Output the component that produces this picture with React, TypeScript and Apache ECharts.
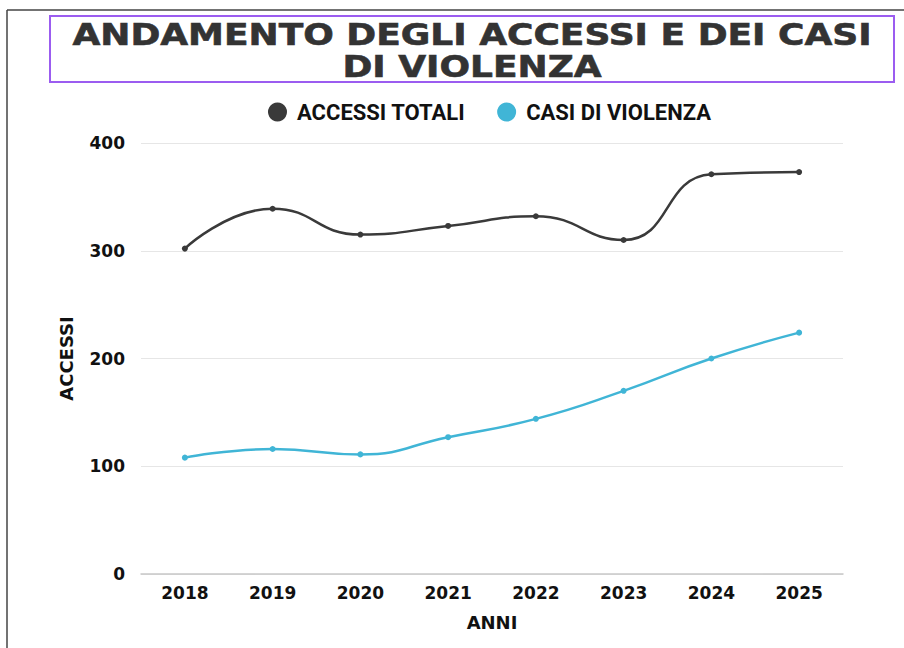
import React, { useEffect, useRef } from "react";
import * as echarts from "echarts";

const years = ["2018", "2019", "2020", "2021", "2022", "2023", "2024", "2025"];
const accessiTotali = [302, 339, 315, 323, 332, 310, 371, 373];
const casiViolenza = [108, 116, 111, 127, 144, 170, 200, 224];
const yTicks = [0, 100, 200, 300, 400];
const titleLines = ["ANDAMENTO DEGLI ACCESSI E DEI CASI", "DI VIOLENZA"];

export default function App() {
  const ref = useRef<HTMLDivElement>(null);
  useEffect(() => {
    if (!ref.current) return;
    const chart = echarts.init(ref.current, null, { renderer: "svg" });
    const axisFont = { fontFamily: "DejaVu Sans", fontWeight: "bold", fontSize: 17, color: "#111" };
    const titleStyle = {
      fontFamily: "DejaVu Sans",
      fontWeight: 900,
      fontSize: 30,
      fill: "#333",
      stroke: "#333",
      lineWidth: 0.6,
      align: "center",
      verticalAlign: "middle",
    };
    chart.setOption({
      animation: false,
      backgroundColor: "#fff",
      graphic: [
        { type: "line", shape: { x1: 7, y1: 10, x2: 904, y2: 10 }, style: { stroke: "#444", lineWidth: 1.5 } },
        { type: "line", shape: { x1: 7, y1: 10, x2: 7, y2: 648 }, style: { stroke: "#444", lineWidth: 1.5 } },
        { type: "rect", shape: { x: 50, y: 16, width: 844, height: 66 }, style: { fill: "none", stroke: "#9b5cf0", lineWidth: 2 } },
        { type: "text", x: 472, y: 35, scaleX: 1.2, style: { text: titleLines[0], ...titleStyle } },
        { type: "text", x: 472, y: 67, scaleX: 1.2, style: { text: titleLines[1], ...titleStyle } },
      ],
      legend: {
        top: 96,
        left: 263,
        icon: "circle",
        itemWidth: 19,
        itemHeight: 19,
        itemGap: 32,
        textStyle: { fontFamily: "Roboto", fontWeight: "bold", fontSize: 22, color: "#111", padding: [0, 0, 0, 5] },
        data: ["ACCESSI TOTALI", "CASI DI VIOLENZA"],
      },
      grid: { left: 141, right: 61, top: 143, bottom: 74 },
      xAxis: {
        type: "category",
        data: years,
        boundaryGap: true,
        name: "ANNI",
        nameLocation: "middle",
        nameGap: 39,
        nameTextStyle: { ...axisFont, fontSize: 18 },
        axisLine: { show: true, lineStyle: { color: "#c8c8c8", width: 1.5 } },
        axisTick: { show: false },
        axisLabel: { ...axisFont, margin: 10 },
      },
      yAxis: {
        type: "value",
        min: yTicks[0],
        max: yTicks[yTicks.length - 1],
        interval: 100,
        name: "ACCESSI",
        nameLocation: "middle",
        nameGap: 66,
        nameRotate: 90,
        nameTextStyle: { ...axisFont, fontSize: 18 },
        axisLine: { show: false },
        axisTick: { show: false },
        axisLabel: { ...axisFont, margin: 16 },
        splitLine: { lineStyle: { color: "#e6e6e6", width: 1 } },
      },
      series: [
        {
          name: "ACCESSI TOTALI",
          type: "line",
          smooth: true,
          data: accessiTotali,
          symbol: "circle",
          symbolSize: 6,
          itemStyle: { color: "#3a3a3a" },
          lineStyle: { color: "#3a3a3a", width: 2.5 },
        },
        {
          name: "CASI DI VIOLENZA",
          type: "line",
          smooth: true,
          data: casiViolenza,
          symbol: "circle",
          symbolSize: 6,
          itemStyle: { color: "#40b5d6" },
          lineStyle: { color: "#40b5d6", width: 2.5 },
        },
      ],
    });
    return () => chart.dispose();
  }, []);
  return (
    <div
      ref={ref}
      style={{ position: "fixed", left: 0, top: 0, width: 904, height: 648 }}
    />
  );
}
